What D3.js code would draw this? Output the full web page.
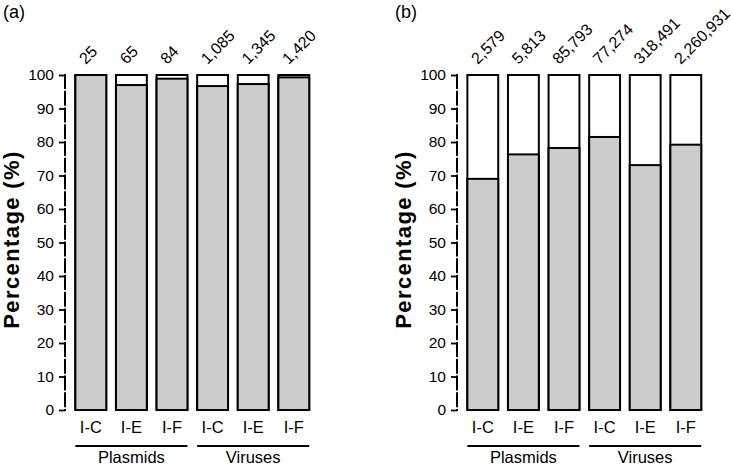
<!DOCTYPE html>
<html>
<head>
<meta charset="utf-8">
<script src="https://cdn.jsdelivr.net/npm/d3@7"></script>
<style>
  html, body { margin: 0; padding: 0; background: #fff; }
  svg text { font-family: "Liberation Sans", Arial, sans-serif; fill: #000; }
</style>
</head>
<body>
<svg id="chart" width="732" height="467"></svg>
<script>
// ---- data ----
const categories = ["I-C", "I-E", "I-F", "I-C", "I-E", "I-F"];
const groups = ["Plasmids", "Viruses"];
const panelLabels = ["(a)", "(b)"];
const countsA = ["25", "65", "84", "1,085", "1,345", "1,420"];
const countsB = ["2,579", "5,813", "85,793", "77,274", "318,491", "2,260,931"];
const valuesA = [100, 97.0, 98.9, 96.7, 97.3, 99.3];
const valuesB = [69.0, 76.3, 78.2, 81.5, 73.1, 79.2];
const yTicks = [0, 10, 20, 30, 40, 50, 60, 70, 80, 90, 100];

const svg = d3.select("#chart");

const y = d3.scaleLinear().domain([0, 100]).range([410, 75]);

function drawPanel(axisX, values, counts, label) {
  const g = svg.append("g");
  const x = d3.scaleBand()
    .domain(d3.range(categories.length))
    .range([axisX + 5.5, axisX + 5.5 + 6 * 40.6])
    .paddingInner(0.24)
    .paddingOuter(0.12);

  // panel label
  g.append("text")
    .attr("x", axisX - 62)
    .attr("y", 18)
    .attr("font-size", 18)
    .text(label);

  // y axis
  const ax = g.append("g")
    .attr("transform", `translate(${axisX},0)`)
    .call(d3.axisLeft(y).tickValues(yTicks).tickSize(6).tickPadding(5).tickSizeOuter(0));
  ax.select(".domain").remove();
  ax.selectAll(".tick line").attr("stroke", "#000").attr("stroke-width", 1.8);
  ax.selectAll(".tick text").attr("font-size", 15.5).attr("font-family", "Liberation Sans, Arial, sans-serif");
  ax.append("line")
    .attr("x1", 0).attr("x2", 0)
    .attr("y1", y(100) - 1).attr("y2", y(0) + 1)
    .attr("stroke", "#000").attr("stroke-width", 2)
    .attr("stroke-dasharray", "15 1.75");

  // y title
  g.append("text")
    .attr("transform", `translate(${axisX - 46.5},${y(50) - 3}) rotate(-90)`)
    .attr("text-anchor", "middle")
    .attr("font-size", 22)
    .attr("letter-spacing", 1.4)
    .attr("font-weight", "bold")
    .text("Percentage (%)");

  // bars: white full, grey lower part
  const bars = g.selectAll(".bar").data(values).enter().append("g");
  bars.append("rect")
    .attr("x", (d, i) => x(i))
    .attr("y", y(100))
    .attr("width", x.bandwidth())
    .attr("height", y(0) - y(100))
    .attr("fill", "#fff")
    .attr("stroke", "#000")
    .attr("stroke-width", 2);
  bars.append("rect")
    .attr("x", (d, i) => x(i))
    .attr("y", d => y(d))
    .attr("width", x.bandwidth())
    .attr("height", d => y(0) - y(d))
    .attr("fill", "#cccccc")
    .attr("stroke", "#000")
    .attr("stroke-width", 2);

  // count labels
  g.selectAll(".cnt").data(counts).enter().append("text")
    .attr("transform", (d, i) => `translate(${x(i) + x.bandwidth() / 2 - 5},65) rotate(-45)`)
    .attr("font-size", 16)
    .text(d => d);

  // category labels
  g.selectAll(".cat").data(categories).enter().append("text")
    .attr("x", (d, i) => x(i) + x.bandwidth() / 2)
    .attr("y", 433)
    .attr("text-anchor", "middle")
    .attr("font-size", 16.5)
    .text(d => d);

  // group lines and labels
  groups.forEach((gr, k) => {
    const x1 = x(k * 3);
    const x2 = x(k * 3 + 2) + x.bandwidth();
    g.append("line")
      .attr("x1", x1).attr("x2", x2)
      .attr("y1", 446).attr("y2", 446)
      .attr("stroke", "#000").attr("stroke-width", 1.8);
    g.append("text")
      .attr("x", (x1 + x2) / 2)
      .attr("y", 463)
      .attr("text-anchor", "middle")
      .attr("font-size", 16.5)
      .text(gr);
  });
}

drawPanel(65, valuesA, countsA, panelLabels[0]);
drawPanel(457, valuesB, countsB, panelLabels[1]);
</script>
</body>
</html>
